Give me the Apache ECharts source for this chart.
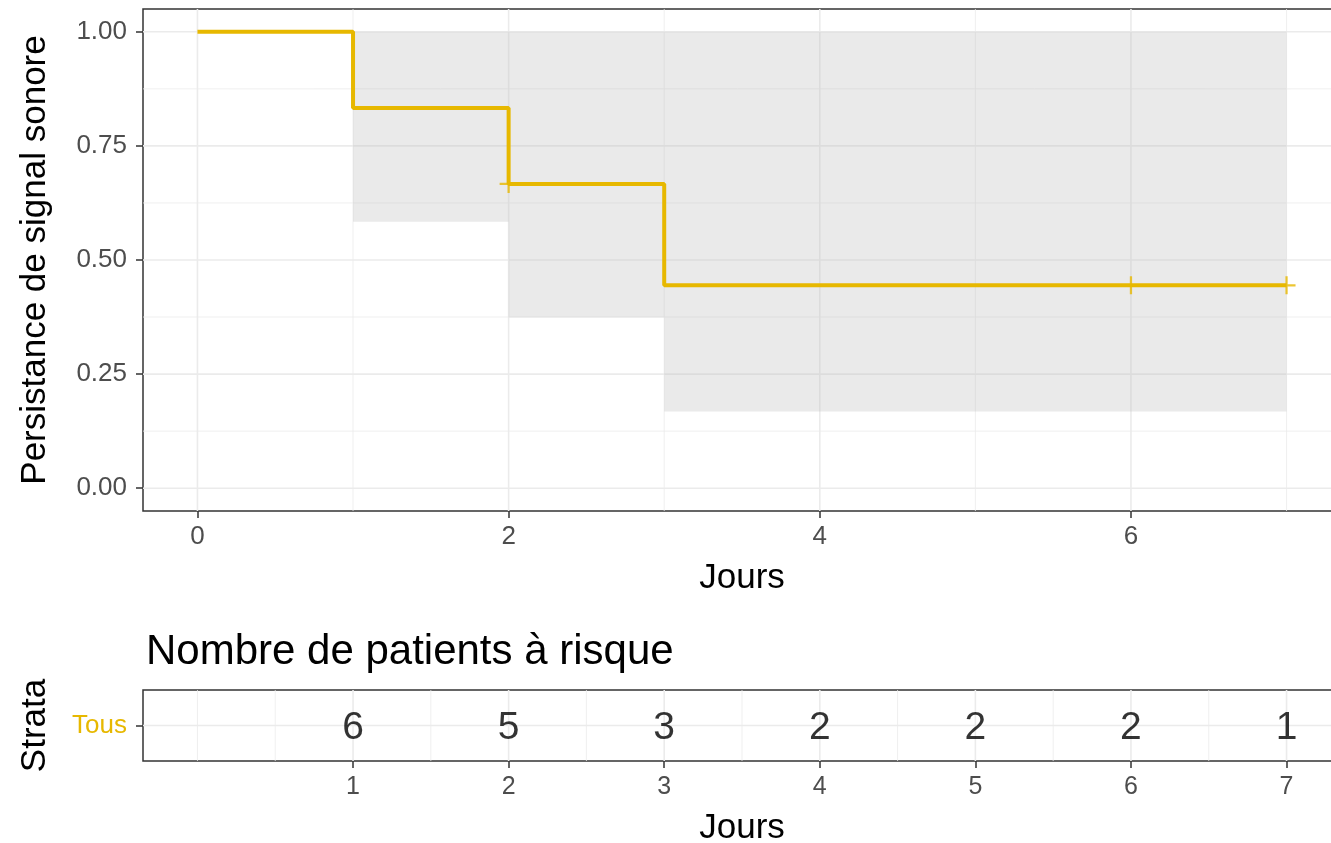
<!DOCTYPE html>
<html><head><meta charset="utf-8">
<script src="https://cdn.jsdelivr.net/npm/echarts@6/dist/echarts.min.js"></script>
<style>html,body{margin:0;padding:0;background:#fff}#c{width:1331px;height:843px}</style>
</head><body><div id="c"></div>
<script>
// ---- data ----
const times = [0, 1, 2, 3, 7];
const survival = [1.0, 0.8333, 0.6667, 0.4444, 0.4444];
const bandStart = [1, 2, 3];
const bandEnd = [2, 3, 7];
const bandLower = [0.584, 0.374, 0.168];
const bandUpper = [1.0, 1.0, 1.0];
const censorTimes = [2, 6, 7];
const censorSurv = [0.6667, 0.4444, 0.4444];
const xTicksTop = [0, 2, 4, 6];
const xMinorTop = [1, 3, 5, 7];
const yTicksTop = [0, 0.25, 0.5, 0.75, 1.0];
const yMinorTop = [0.125, 0.375, 0.625, 0.875];
const riskTimes = [1, 2, 3, 4, 5, 6, 7];
const riskCounts = [6, 5, 3, 2, 2, 2, 1];
const riskMinor = [0, 0.5, 1.5, 2.5, 3.5, 4.5, 5.5, 6.5];
const strata = ['Tous'];
const strataPos = [1];

// ---- styles ----
const GOLD = '#E7B800';
const FONT = 'Liberation Sans, Arial, sans-serif';
const X_MIN = -0.35, X_MAX = 7.35;
const Y_MIN = -0.05, Y_MAX = 1.05;
const R_MIN = 0, R_MAX = 2;

function vLines(idx, values, width, yMin, yMax) {
  return {
    type: 'custom', xAxisIndex: idx, yAxisIndex: idx, z: 1, silent: true, clip: true,
    data: values.map(v => [v, yMin]),
    renderItem: (params, api) => {
      const v = api.value(0);
      const a = api.coord([v, yMin]), b = api.coord([v, yMax]);
      return {type: 'line', shape: {x1: a[0], y1: a[1], x2: b[0], y2: b[1]},
              style: {stroke: '#EBEBEB', lineWidth: width}};
    }
  };
}
function hLines(idx, values, width) {
  return {
    type: 'custom', xAxisIndex: idx, yAxisIndex: idx, z: 1, silent: true, clip: true,
    data: values.map(v => [X_MIN, v]),
    renderItem: (params, api) => {
      const v = api.value(1);
      const a = api.coord([X_MIN, v]), b = api.coord([X_MAX, v]);
      return {type: 'line', shape: {x1: a[0], y1: a[1], x2: b[0], y2: b[1]},
              style: {stroke: '#EBEBEB', lineWidth: width}};
    }
  };
}

const axisTitle = {color: '#000', fontSize: 35, fontFamily: FONT};
const tickLabel = {color: '#4D4D4D', fontSize: 26, fontFamily: FONT};
const tickStyle = {show: true, length: 7, lineStyle: {color: '#333', width: 1.5}};
const noLine = {show: false, onZero: false};

const chart = echarts.init(document.getElementById('c'), null, {renderer: 'canvas'});
chart.setOption({
  animation: false,
  backgroundColor: '#fff',
  title: {
    text: 'Nombre de patients à risque', left: 141, top: 626,
    textStyle: {color: '#000', fontSize: 42, fontWeight: 'normal', fontFamily: FONT}
  },
  grid: [
    {left: 143, right: -10, top: 9, height: 502, show: true, borderColor: '#333', borderWidth: 1.5,
     backgroundColor: '#fff', outerBoundsMode: 'none'},
    {left: 143, right: -10, top: 690, height: 71, show: true, borderColor: '#333', borderWidth: 1.5,
     backgroundColor: '#fff', outerBoundsMode: 'none'}
  ],
  xAxis: [
    {type: 'value', gridIndex: 0, min: X_MIN, max: X_MAX,
     name: 'Jours', nameLocation: 'middle', nameGap: 50, nameTextStyle: axisTitle,
     axisLine: noLine, splitLine: {show: false},
     axisTick: Object.assign({customValues: xTicksTop}, tickStyle),
     axisLabel: Object.assign({customValues: xTicksTop, margin: 13, formatter: v => String(v)}, tickLabel)},
    {type: 'value', gridIndex: 1, min: X_MIN, max: X_MAX,
     name: 'Jours', nameLocation: 'middle', nameGap: 50, nameTextStyle: axisTitle,
     axisLine: noLine, splitLine: {show: false},
     axisTick: Object.assign({customValues: riskTimes}, tickStyle),
     axisLabel: Object.assign({}, tickLabel, {customValues: riskTimes, margin: 14, fontSize: 25, formatter: v => String(v)})}
  ],
  yAxis: [
    {type: 'value', gridIndex: 0, min: Y_MIN, max: Y_MAX,
     name: 'Persistance de signal sonore', nameLocation: 'middle', nameGap: 90, nameRotate: 90,
     nameTextStyle: axisTitle,
     axisLine: noLine, splitLine: {show: false},
     axisTick: Object.assign({customValues: yTicksTop}, tickStyle),
     axisLabel: Object.assign({customValues: yTicksTop, margin: 16, formatter: v => v.toFixed(2)}, tickLabel)},
    {type: 'value', gridIndex: 1, min: R_MIN, max: R_MAX,
     name: 'Strata', nameLocation: 'middle', nameGap: 90, nameRotate: 90,
     nameTextStyle: axisTitle,
     axisLine: noLine, splitLine: {show: false},
     axisTick: Object.assign({customValues: strataPos}, tickStyle),
     axisLabel: Object.assign({}, tickLabel, {customValues: strataPos, margin: 16, color: GOLD,
       formatter: v => strata[strataPos.indexOf(Math.round(v))] || ''})}
  ],
  series: [
    vLines(0, xMinorTop, 0.8, Y_MIN, Y_MAX),
    vLines(0, xTicksTop, 1.6, Y_MIN, Y_MAX),
    hLines(0, yMinorTop, 0.8),
    hLines(0, yTicksTop, 1.6),
    vLines(1, riskMinor, 0.8, R_MIN, R_MAX),
    vLines(1, riskTimes, 1.6, R_MIN, R_MAX),
    hLines(1, strataPos, 1.6),
    {
      type: 'custom', xAxisIndex: 0, yAxisIndex: 0, z: 2, silent: true,
      data: bandStart.map((s, i) => [s, bandEnd[i], bandLower[i], bandUpper[i]]),
      renderItem: (params, api) => {
        const a = api.coord([api.value(0), api.value(3)]);
        const b = api.coord([api.value(1), api.value(2)]);
        return {type: 'rect', shape: {x: a[0], y: a[1], width: b[0] - a[0], height: b[1] - a[1]},
                style: {fill: 'rgba(190,190,190,0.32)'}};
      }
    },
    {
      type: 'line', xAxisIndex: 0, yAxisIndex: 0, z: 3, step: 'end', showSymbol: false, silent: true,
      data: times.map((t, i) => [t, survival[i]]),
      lineStyle: {color: GOLD, width: 4}
    },
    {
      type: 'scatter', xAxisIndex: 0, yAxisIndex: 0, z: 4, silent: true,
      symbol: 'path://M-1,-8H1V8H-1Z M-8,-1H8V1H-8Z', symbolSize: 18,
      itemStyle: {color: GOLD},
      data: censorTimes.map((t, i) => [t, censorSurv[i]])
    },
    {
      type: 'scatter', xAxisIndex: 1, yAxisIndex: 1, z: 4, silent: true,
      symbolSize: 0,
      data: riskTimes.map((t, i) => [t, 1, riskCounts[i]]),
      label: {show: true, position: 'inside', offset: [0, 3], formatter: p => String(p.value[2]),
              color: '#000', fontSize: 39, fontFamily: FONT}
    }
  ]
});
</script>
</body></html>
